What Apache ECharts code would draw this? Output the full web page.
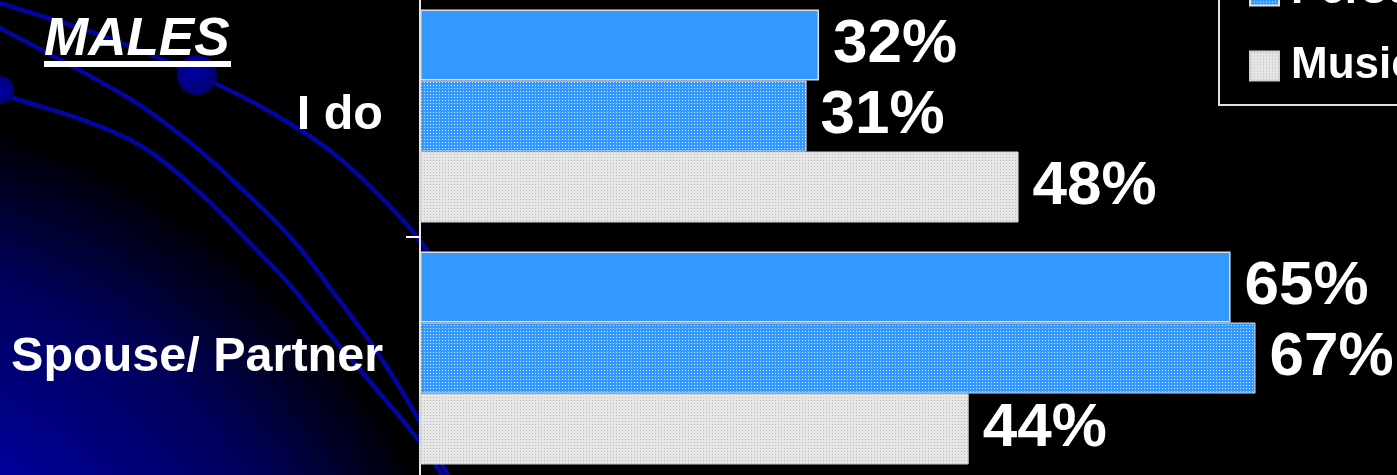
<!DOCTYPE html>
<html>
<head>
<meta charset="utf-8">
<script src="https://cdn.jsdelivr.net/npm/echarts@6/dist/echarts.min.js"></script>
<style>
html,body{margin:0;padding:0;background:#000;}
#chart{width:1397px;height:475px;}
</style>
</head>
<body>
<div id="chart"></div>
<script>
// ---- data ----
const categories = ['I do', 'Spouse/ Partner'];
const seriesNames = ['Computer', 'Personal Electronics', 'Music Equipment'];
const computerValues = [32, 65];
const personalValues = [31, 67];
const musicValues = [48, 44];
const chartTitle = 'MALES';

// ---- patterns ----
function makePattern(base, dot, size) {
  const c = document.createElement('canvas');
  c.width = size; c.height = size;
  const ctx = c.getContext('2d');
  ctx.fillStyle = base; ctx.fillRect(0, 0, size, size);
  ctx.fillStyle = dot; ctx.fillRect(1, 1, 1, 1);
  return { image: c, repeat: 'repeat' };
}
const bluePattern = makePattern('#3399ff', '#d4eaff', 3);
const grayPattern = makePattern('#e6e6e6', '#b8b8b8', 3);

const FONT = '"Liberation Sans", Arial, sans-serif';
const arcColor = '#0404a0';

const labelCfg = {
  show: true, position: 'right', distance: 14,
  formatter: '{c}%', color: '#ffffff',
  fontSize: 62, fontWeight: 'bold', fontFamily: FONT
};

const chart = echarts.init(document.getElementById('chart'));
chart.setOption({
  animation: false,
  backgroundColor: '#000000',
  graphic: [
    { type: 'circle', z: -10, silent: true,
      shape: { cx: -200, cy: 800, r: 700 },
      style: { fill: { type: 'radial', x: 0.5, y: 0.5, r: 0.5,
        colorStops: [
          { offset: 0, color: '#0000c8' },
          { offset: 0.5, color: '#0000a4' },
          { offset: 0.8, color: '#00005a' },
          { offset: 0.97, color: '#000010' },
          { offset: 1, color: '#000000' }
        ] } } },
    { type: 'polyline', z: -9, silent: true,
      shape: { points: [[-20,-5],[0,3],[100,35],[197,75],[267,110],[333,153],[400,217],[440,268]], smooth: 0.35 },
      style: { stroke: arcColor, lineWidth: 4.5, fill: null } },
    { type: 'polyline', z: -9, silent: true,
      shape: { points: [[-10,23],[0,28],[127,97],[187,140],[240,187],[293,240],[333,292],[377,352],[420,422],[450,480]], smooth: 0.35 },
      style: { stroke: arcColor, lineWidth: 4.5, fill: null } },
    { type: 'polyline', z: -9, silent: true,
      shape: { points: [[0,92],[10,97],[83,120],[143,147],[200,193],[247,240],[290,285],[333,338],[377,390],[420,442],[445,480]], smooth: 0.35 },
      style: { stroke: arcColor, lineWidth: 4.5, fill: null } },
    { type: 'circle', z: -8, silent: true,
      shape: { cx: 197, cy: 75, r: 20 },
      style: { fill: { type: 'radial', x: 0.4, y: 0.4, r: 0.6,
        colorStops: [{ offset: 0, color: '#0000a8' }, { offset: 1, color: '#000070' }] } } },
    { type: 'circle', z: -8, silent: true,
      shape: { cx: 0, cy: 90, r: 14 },
      style: { fill: { type: 'radial', x: 0.5, y: 0.5, r: 0.6,
        colorStops: [{ offset: 0, color: '#0000a8' }, { offset: 1, color: '#000070' }] } } },
    { type: 'text', z: 10, x: 44, y: 40,
      style: { text: chartTitle, fill: '#ffffff', fontSize: 53, fontWeight: 'bold',
        fontStyle: 'italic', fontFamily: FONT, textVerticalAlign: 'middle', textAlign: 'left' } },
    { type: 'rect', z: 10, shape: { x: 44, y: 61, width: 187, height: 6 },
      style: { fill: '#ffffff' } }
  ],
  legend: {
    orient: 'vertical',
    left: 1219, top: -123,
    padding: [17, 30, 17, 30],
    borderColor: '#e0e0e0', borderWidth: 2,
    itemWidth: 29, itemHeight: 29, itemGap: 31,
    icon: 'rect',
    textStyle: { color: '#ffffff', fontSize: 44, fontWeight: 'bold', fontFamily: FONT,
      lineHeight: 44, padding: [0, 0, 0, 7] },
    data: seriesNames
  },
  grid: { left: 420, top: -5, width: 1247, height: 484, containLabel: false, outerBoundsMode: 'none' },
  xAxis: { type: 'value', min: 0, max: 100, show: false, splitLine: { show: false } },
  yAxis: {
    type: 'category', inverse: true, data: categories,
    axisLine: { show: true, lineStyle: { color: '#e8e8e8', width: 2 } },
    axisTick: { show: true, length: 14, lineStyle: { color: '#ffffff', width: 2 } },
    axisLabel: { color: '#ffffff', fontSize: 48.5, fontWeight: 'bold', fontFamily: FONT, margin: 37 },
    splitLine: { show: false }
  },
  series: [
    { name: seriesNames[0], type: 'bar', data: computerValues, barWidth: 71, barGap: '0%',
      itemStyle: { color: '#3399ff', borderColor: '#e0e0e0', borderWidth: 1.5 },
      label: labelCfg },
    { name: seriesNames[1], type: 'bar', data: personalValues, barWidth: 71, barGap: '0%',
      itemStyle: { color: bluePattern, borderColor: '#e0e0e0', borderWidth: 1 },
      label: labelCfg },
    { name: seriesNames[2], type: 'bar', data: musicValues, barWidth: 71, barGap: '0%',
      itemStyle: { color: grayPattern, borderColor: '#d0d0d0', borderWidth: 1 },
      label: labelCfg }
  ]
});
</script>
</body>
</html>
